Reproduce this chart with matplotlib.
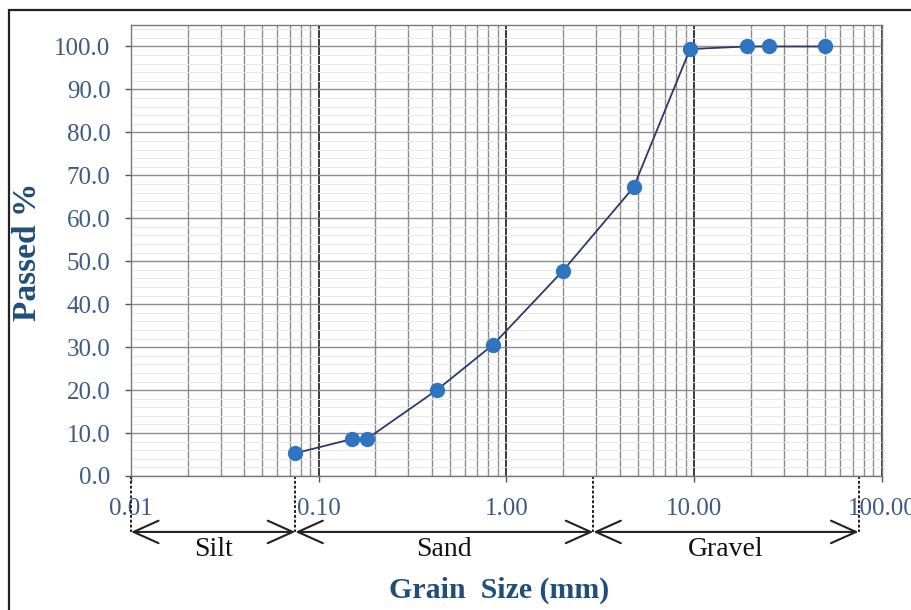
import matplotlib
matplotlib.use("Agg")
import matplotlib.pyplot as plt
from matplotlib.patches import Rectangle
from matplotlib.ticker import MultipleLocator, LogLocator, NullFormatter

# sieve analysis (grain size in mm, percent passing)
grain_mm = [0.075, 0.15, 0.18, 0.425, 0.85, 2.0, 4.75, 9.5, 19.0, 25.0, 50.0]
passed = [5.3, 8.6, 8.6, 20.0, 30.6, 47.8, 67.2, 99.4, 100.0, 100.0, 100.0]

# soil class boundaries and names
bounds = [0.01, 0.075, 2.9, 75.0]
classes = ["Silt", "Sand", "Gravel"]

xticks = [0.01, 0.1, 1, 10, 100]
xtick_labels = ["0.01", "0.10", "1.00", "10.00", "100.00"]
yticks = [0, 10, 20, 30, 40, 50, 60, 70, 80, 90, 100]

SERIF = "Liberation Serif"
TICK_C = "#3f5a85"
TITLE_C = "#1f4e79"

fig = plt.figure(figsize=(9.12, 6.10), dpi=100)
ax = fig.add_axes([131 / 912, 1 - 476 / 610, (882 - 131) / 912, (476 - 25) / 610])

ax.plot(grain_mm, passed, color="#2b3a67", lw=1.3, zorder=3)
ax.plot(grain_mm, passed, "o", color="#2e74c0", ms=10, zorder=4)

ax.set_xscale("log")
ax.set_xlim(0.01, 100)
ax.set_ylim(0, 105)

ax.set_xticks(xticks)
ax.set_xticklabels(xtick_labels)
ax.xaxis.set_minor_locator(LogLocator(base=10, subs=range(2, 10)))
ax.xaxis.set_minor_formatter(NullFormatter())
ax.set_yticks(yticks)
ax.set_yticklabels([f"{v:.1f}" for v in yticks])
ax.yaxis.set_minor_locator(MultipleLocator(2))

ax.tick_params(axis="x", which="major", length=4, width=1, color="#555555",
               pad=12, labelsize=18, labelcolor=TICK_C)
ax.tick_params(axis="y", which="major", length=4.3, width=1, color="#555555",
               pad=10.5, labelsize=18, labelcolor=TICK_C)
ax.tick_params(which="minor", length=0)
for lab in ax.get_xticklabels() + ax.get_yticklabels():
    lab.set_family(SERIF)

ax.xaxis.grid(True, which="major", color="#1a1a1a", lw=1.2)
ax.xaxis.grid(True, which="minor", color="#8c8c8c", lw=1.0)
ax.yaxis.grid(True, which="major", color="#8c8c8c", lw=1.0)
ax.yaxis.grid(True, which="minor", color="#e8e8e8", lw=0.7)
ax.set_axisbelow(True)
for sp in ax.spines.values():
    sp.set_color("#777777")
    sp.set_linewidth(1.0)

# class boundaries below the axis with double arrows
tr = ax.get_xaxis_transform()
y_arrow = -0.124
for b in bounds:
    ax.plot([b, b], [0, y_arrow], transform=tr, color="#222222", lw=1.4,
            ls=(0, (1.5, 1)), clip_on=False)
for lo, hi, name in zip(bounds[:-1], bounds[1:], classes):
    ax.annotate("", xy=(hi, y_arrow), xytext=(lo, y_arrow),
                xycoords=tr, textcoords=tr,
                arrowprops=dict(arrowstyle="<->,head_length=1.0,head_width=0.45",
                                color="#222222", lw=1.5, mutation_scale=18,
                                shrinkA=0, shrinkB=0))
    mid = (lo * hi) ** 0.5
    ax.text(mid, -0.164, name, transform=tr, ha="center", va="center",
            family=SERIF, fontsize=20, color="#111111")

ax.text(0.49, -0.253, "Grain  Size (mm)", transform=ax.transAxes, ha="center",
        va="center", family=SERIF, fontsize=21.5, fontweight="bold", color=TITLE_C)
fig.text(28 / 912, 1 - 252 / 610, "Passed %", rotation=90, ha="center",
         va="center", family=SERIF, fontsize=24, fontweight="bold", color=TITLE_C)

# outer frame
fig.patches.append(Rectangle((9 / 912, -0.2), 2.0, 1.2 - 10 / 610, fill=False,
                             lw=1.6, edgecolor="#222222",
                             transform=fig.transFigure, figure=fig))

fig.savefig("out.png", dpi=100)
